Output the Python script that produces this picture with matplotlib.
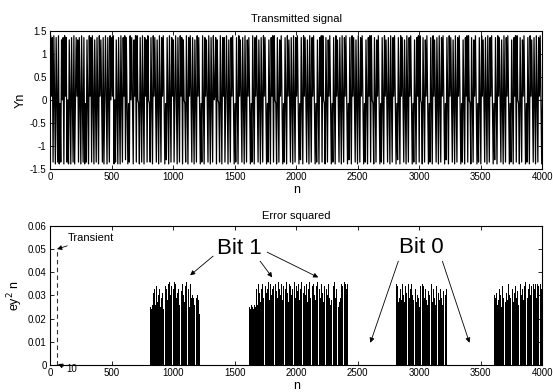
import numpy as np
import matplotlib
matplotlib.use("Agg")
import matplotlib.pyplot as plt

plt.rcParams['font.family'] = ['Liberation Sans', 'DejaVu Sans']

# ---------------- data ----------------
# Transmitted signal: symbol sequence (one symbol ~ 6 samples)
signal_symbols = (
    "0A+BbA0aB0bAa-bC0BaA+Bb0aC-aB0bAa0B+CbB0"
    "aA0bBa-bC0aA+BbA0aC-bB0aA+C0bBa0A-aB0bA0"
    "B+Aa0bC0aB-aA0bB+AcB0a-bA0B0aC+AbA0-aB0b"
    "A0aB+CbA0-bB0aA+B0bC-aA0bB+A0a-cB0aA0bB+"
    "Cb0A-aB0bA+BaC0-bA0aB+A0bB-aC0bA+B0a-bA0"
    "aB+C0bA-aB0bA0+BaC0-bA0aB+Bb0A-aC0bB+A0a"
    "-bB0aA+C0bB-aA0bC+B0a-bA0aB+A0bC-aB0bA+B"
    "0a-bC0aB+AbA0-aB0bC+A0a-bB0aA+C0bB-aA0bB"
    "+A0a-cB0aA+B0bC-aA0bB+A0a-bC0aB+AbA0-aB0"
    "bC+A0a-bB0aA+C0bB-aA0bB+A0a-cB0aA+B0bC-a"
    "A0bB+A0a-bC0aB+AbA0-aB0bC+A0a-bB0aA+C0bB"
    "-aA0bB+A0a-cB0aA+B0bC-aA0bB+A0a-bC0aB+Ab"
    "A0-aB0bC+A0a-bB0aA+C0bB-aA0bB+A0a-cB0aA+"
    "B0bC-aA0bB+A0a-bC0aB+AbA0-aB0bC+A0a-bB0a"
    "A+C0bB-aA0bB+A0a-cB0aA+B0bC-aA0bB+A0a-bC"
    "0aB+AbA0-aB0bC+A0a-bB0aA+C0bB-aA0bB+A0a0"
)
symbol_levels = {'A': 1.39, 'B': 1.35, 'C': 1.30, 'D': 1.25,
                 'a': -1.39, 'b': -1.35, 'c': -1.30, 'd': -1.25,
                 '0': 0.0, '+': 0.08, '-': -0.08}
n_max = 4000

# Error squared bursts (values x 1e-3), start/end sample of each burst
burst_ranges = [(813, 1214), (1618, 2415), (2813, 3220), (3610, 4000)]
burst1 = [25, 24, 26, 31, 33, 26, 34, 32, 27, 30, 33, 25, 29, 31, 24, 0, 34, 33, 28, 35,
          36, 30, 34, 0, 33, 36, 35, 29, 31, 33, 26, 0, 32, 35, 30, 27, 34, 36, 0, 33,
          25, 35, 29, 30, 29, 26, 0, 29, 30, 28, 22]
burst2 = [25, 24, 26, 25, 24, 26, 25, 33, 26, 35, 31, 34, 27, 33, 35, 29, 0, 34, 31, 33,
          36, 28, 35, 30, 33, 34, 0, 35, 32, 29, 36, 33, 30, 35, 28, 34, 0, 33, 36, 31,
          27, 35, 34, 30, 33, 0, 36, 29, 34, 32, 35, 28, 33, 36, 0, 31, 34, 30, 35, 27,
          33, 36, 29, 0, 34, 32, 35, 30, 28, 34, 36, 0, 33, 29, 35, 31, 27, 34, 0, 33,
          30, 35, 29, 26, 28, 0, 34, 36, 29, 33, 0, 25, 27, 29, 35, 34, 0, 36, 35, 33, 35]
burst3 = [35, 34, 27, 29, 33, 28, 35, 30, 27, 34, 31, 0, 35, 29, 33, 35, 30, 28, 0, 33,
          27, 30, 29, 25, 34, 0, 35, 34, 29, 33, 28, 26, 32, 30, 0, 35, 27, 33, 29, 26,
          34, 0, 31, 28, 33, 29, 26, 32, 0, 30, 33]
burst4 = [30, 29, 31, 26, 28, 33, 30, 25, 34, 29, 0, 27, 33, 31, 28, 35, 30, 29, 0, 33,
          27, 31, 34, 29, 32, 26, 0, 35, 30, 33, 28, 34, 36, 0, 29, 33, 35, 35, 30, 34,
          0, 35, 33, 35, 29, 35, 34, 0, 35, 33, 35]
bursts = [burst1, burst2, burst3, burst4]
transient_n = 60
transient_top = 0.05

top_yticks = [-1.5, -1, -0.5, 0, 0.5, 1, 1.5]
top_yticklabels = ['-1.5', '-1', '-0.5', '0', '0.5', '1', '1.5']
bot_yticks = [0, 0.01, 0.02, 0.03, 0.04, 0.05, 0.06]
bot_yticklabels = ['0', '0.01', '0.02', '0.03', '0.04', '0.05', '0.06']
xticks = [0, 500, 1000, 1500, 2000, 2500, 3000, 3500, 4000]

# ---------------- figure ----------------
fig = plt.figure(figsize=(5.53, 3.92), dpi=100)
ax1 = fig.add_axes([0.0904, 0.5689, 0.8906, 0.3528])
ax2 = fig.add_axes([0.0904, 0.0689, 0.8906, 0.3546])

sig = np.array([symbol_levels[c] for c in signal_symbols])
xs = np.linspace(0, n_max, len(sig))
ax1.plot(xs, sig, color='black', lw=0.9)
ax1.set_xlim(0, n_max)
ax1.set_ylim(-1.5, 1.5)
ax1.set_yticks(top_yticks)
ax1.set_yticklabels(top_yticklabels)
ax1.set_xticks(xticks)
ax1.set_title('Transmitted signal', fontsize=8, pad=6)
ax1.set_xlabel('n', fontsize=9, labelpad=1)
ax1.set_ylabel('Yn', fontsize=9, labelpad=2)

for (s, e), vals in zip(burst_ranges, bursts):
    v = np.array(vals) * 1e-3
    xb = np.linspace(s, e, len(v))
    w = (e - s) / (len(v) - 1)
    ax2.bar(xb, v, width=w, color='black', linewidth=0, align='center')
ax2.plot([transient_n, transient_n], [0, transient_top], color='#333333', lw=0.8,
         dashes=(4, 3))
ax2.set_xlim(0, n_max)
ax2.set_ylim(0, 0.06)
ax2.set_yticks(bot_yticks)
ax2.set_yticklabels(bot_yticklabels)
ax2.set_xticks(xticks)
ax2.set_title('Error squared', fontsize=8, pad=5)
ax2.set_xlabel('n', fontsize=9, labelpad=1)
ax2.set_ylabel('ey$^2$ n', fontsize=9, labelpad=2)

for ax in (ax1, ax2):
    ax.tick_params(direction='in', top=True, right=True, length=3, width=0.6,
                   labelsize=7, pad=2.5)
    for sp in ax.spines.values():
        sp.set_linewidth(0.8)

arr = dict(arrowstyle='-|>', color='black', lw=0.6, mutation_scale=7, shrinkA=0, shrinkB=0)

ax2.annotate('Transient', xy=(57, 0.050), xytext=(146, 0.0548), fontsize=8,
             va='center', ha='left', arrowprops=arr)
ax2.annotate('10', xy=(65, 0.0004), xytext=(130, -0.0019), fontsize=7,
             va='center', ha='left', arrowprops=arr, annotation_clip=False)

ax2.text(1537, 0.0504, 'Bit 1', fontsize=16, ha='center', va='center')
for start, end in [((1325, 0.047), (1138, 0.0387)),
                   ((1707, 0.0448), (1805, 0.0378)),
                   ((1764, 0.0487), (2179, 0.0378))]:
    ax2.annotate('', xy=end, xytext=start, arrowprops=arr)

ax2.text(3016, 0.0509, 'Bit 0', fontsize=16, ha='center', va='center')
for start, end in [((2829, 0.0448), (2602, 0.0096)),
                   ((3187, 0.0448), (3407, 0.0096))]:
    ax2.annotate('', xy=end, xytext=start, arrowprops=arr)

fig.savefig('out.png', dpi=100)
